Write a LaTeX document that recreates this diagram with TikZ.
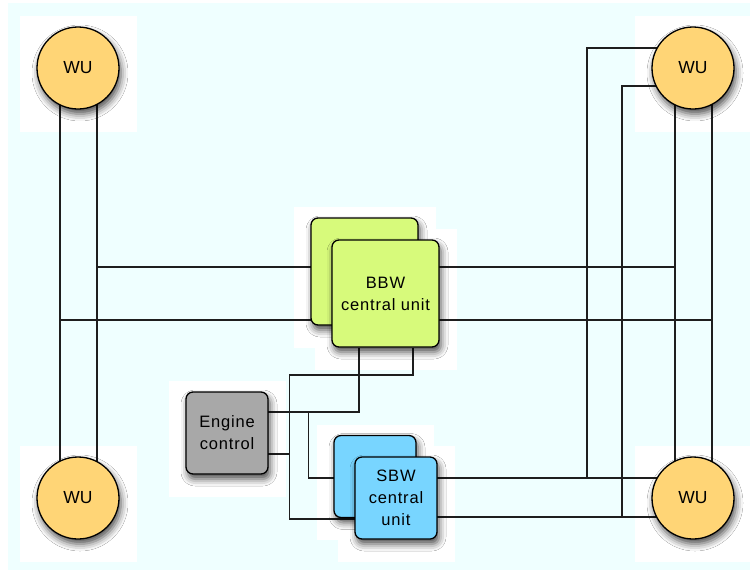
\documentclass[tikz,border=0pt]{standalone}
\usepackage{fontspec}
\setmainfont{Liberation Sans}
\usetikzlibrary{calc,shadows.blur}
\definecolor{panel}{HTML}{EFFFFF}
\definecolor{wufill}{HTML}{FFD576}
\definecolor{bbwfill}{HTML}{D7FA7B}
\definecolor{sbwfill}{HTML}{78D5FF}
\definecolor{engfill}{HTML}{A8A8A8}
\definecolor{wirecol}{HTML}{1E1E1E}
\pgfdeclarelayer{bg}
\pgfdeclarelayer{lines}
\pgfsetlayers{bg,lines,main}
\tikzset{
  shad/.style={blur shadow={shadow xshift=2pt, shadow yshift=-5pt, shadow blur radius=7pt, shadow opacity=70}},
  wu/.style={circle, draw=black, line width=1.3pt, fill=wufill, minimum size=82pt, inner sep=0pt,
    font=\fontsize{17.5}{20}\selectfont, shad},
  unit/.style={rounded corners=7pt, draw=black, line width=1.3pt, inner sep=0pt, align=center,
    font=\fontsize{16.5}{22}\selectfont\addfontfeature{LetterSpace=5}, shad},
  bbw/.style={unit, fill=bbwfill, minimum width=107pt, minimum height=107pt},
  sbw/.style={unit, fill=sbwfill, minimum width=82pt, minimum height=82pt},
  eng/.style={unit, fill=engfill, minimum width=82pt, minimum height=82pt},
  wire/.style={draw=wirecol, line width=1.2pt},
  halo/.style={fill=white}
}
\begin{document}
\begin{tikzpicture}[x=1pt,y=-1pt]
\useasboundingbox (0,0) rectangle (751,571);
% nodes
\node[wu] (wu1) at (78,68) {WU};
\node[wu] (wu2) at (693,68) {WU};
\node[wu] (wu3) at (78,498) {WU};
\node[wu] (wu4) at (693,498) {WU};
\node[bbw] (bbwb) at (364.5,271.5) {};
\node[bbw] (bbwf) at (385.5,293.5) {BBW\\central unit};
\node[eng] (eng) at (227,433) {Engine\\control};
\node[sbw] (sbwb) at (375,476.5) {};
\node[sbw] (sbwf) at (396,498) {SBW\\central\\unit};
% background
\begin{pgfonlayer}{bg}
  \fill[panel] (8,3) rectangle (750,570);
  \foreach \n in {wu1,wu2,wu3,wu4,bbwb,bbwf,eng,sbwb,sbwf}
    \fill[halo] ($(\n.west |- \n.north)+(-16,-10)$) rectangle ($(\n.east |- \n.south)+(17,22)$);
\end{pgfonlayer}
% connectors
\begin{pgfonlayer}{lines}
  \coordinate (lx1) at ($(wu1.center)+(-18,0)$);
  \coordinate (lx2) at ($(wu1.center)+(19,0)$);
  \coordinate (rx1) at ($(wu2.center)+(-18,0)$);
  \coordinate (rx2) at ($(wu2.center)+(19,0)$);
  \coordinate (h1) at ($(bbwf.center)+(0,-26.5)$);
  \coordinate (h2) at ($(bbwf.center)+(0,26.5)$);
  % left wheel units
  \draw[wire] (lx1) -- (lx1 |- wu3.center);
  \draw[wire] (lx2) -- (lx2 |- wu3.center);
  % right wheel units
  \draw[wire] (rx1) -- (rx1 |- wu4.center);
  \draw[wire] (rx2) -- (rx2 |- wu4.center);
  % BBW buses
  \draw[wire] (lx2 |- h1) -- (bbwb.center |- h1);
  \draw[wire] (bbwf.center |- h1) -- (rx1 |- h1);
  \draw[wire] (lx1 |- h2) -- (bbwb.center |- h2);
  \draw[wire] (bbwf.center |- h2) -- (rx2 |- h2);
  % SBW to right wheel units
  \coordinate (b1) at ($(wu4.center)+(0,-20)$);
  \coordinate (b2) at ($(wu4.center)+(0,19)$);
  \draw[wire] (sbwf.center |- b1) -- (b1);
  \draw[wire] (sbwf.center |- b2) -- (b2);
  \coordinate (t1) at ($(wu2.center)+(0,-20)$);
  \coordinate (t2) at ($(wu2.center)+(0,18)$);
  \coordinate (v1) at ($(b1)+(-106,0)$);
  \coordinate (v2) at ($(b2)+(-71,0)$);
  \draw[wire] (t1) -| (v1);
  \draw[wire] (t2) -| (v2);
  % engine, BBW, SBW
  \coordinate (e1) at ($(eng.center)+(0,-21)$);
  \coordinate (e2) at ($(eng.center)+(0,21)$);
  \coordinate (bx1) at ($(bbwf.south)+(-26.5,0)$);
  \coordinate (bx2) at ($(bbwf.south)+(27.5,0)$);
  \coordinate (j1) at ($(eng.east)+(21,-58)$);
  \coordinate (j2) at ($(eng.east |- e1)+(40,0)$);
  \draw[wire] (eng.center |- e1) -| (bx1);
  \draw[wire] (bx2) |- (j1) |- ($(sbwf.center)+(0,21)$);
  \draw[wire] (eng.center |- e2) -- (j1 |- e2);
  \draw[wire] (j2) |- (sbwf.center |- b1);
\end{pgfonlayer}
\end{tikzpicture}
\end{document}
